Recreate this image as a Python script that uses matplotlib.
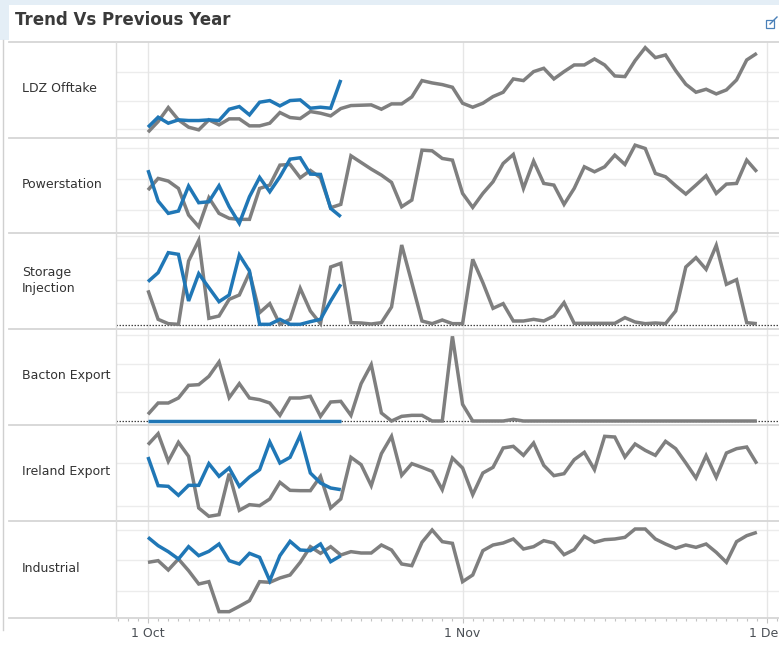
import numpy as np
import pandas as pd
import matplotlib
matplotlib.use("Agg")
import matplotlib.pyplot as plt
import matplotlib.dates as mdates
from matplotlib.lines import Line2D
from matplotlib.patches import Rectangle

# ---------------- data ----------------
prev_dates = pd.date_range("2018-10-01", "2018-11-30", freq="D")   # previous year (61 days)
curr_dates = pd.date_range("2018-10-01", "2018-10-20", freq="D")   # current year (20 days)

categories = ["LDZ Offtake", "Powerstation", "Storage\nInjection",
              "Bacton Export", "Ireland Export", "Industrial"]

ldz_prev = [23, 55, 97, 60, 38, 30, 60, 45, 63, 63, 42, 42, 50, 82, 67, 64, 85, 80, 72, 94,
            103, 104, 105, 92, 108, 108, 129, 178, 171, 166, 158, 110, 98, 110, 130, 143, 183, 178, 205, 215,
            183, 205, 225, 225, 243, 225, 192, 190, 238, 277, 247, 255, 208, 167, 143, 152, 138, 150, 180, 240,
            260]
ldz_curr = [38, 68, 50, 60, 58, 58, 60, 58, 92, 100, 75, 113, 118, 102, 118, 120, 95, 98, 95, 180]

power_prev = [135, 170, 162, 140, 60, 25, 112, 65, 50, 47, 47, 140, 150, 210, 212, 172, 194, 172, 82, 92,
              238, 218, 198, 180, 158, 85, 105, 255, 253, 230, 225, 125, 83, 125, 160, 215, 242, 140, 222, 155,
              150, 92, 140, 205, 190, 205, 240, 212, 270, 260, 185, 175, 148, 123, 150, 178, 125, 153, 155, 225,
              190]
power_curr = [195, 102, 65, 72, 147, 97, 100, 148, 85, 35, 115, 173, 130, 175, 228, 232, 183, 182, 80, 55]

storage_prev = [103, 16, 3, 1, 191, 253, 19, 26, 76, 89, 156, 36, 63, 1, 16, 109, 41, 3, 173, 184,
                6, 5, 2, 6, 53, 239, 126, 11, 3, 14, 3, 3, 196, 126, 49, 63, 11, 11, 16, 11,
                26, 66, 4, 4, 4, 4, 4, 21, 8, 3, 5, 3, 41, 173, 201, 166, 238, 121, 135, 6,
                3]
storage_curr = [129, 156, 216, 211, 71, 153, 111, 69, 89, 209, 161, 1, 1, 16, 1, 1, 9, 16, 71, 121]

bacton_prev = [20, 54, 54, 69, 107, 109, 134, 177, 70, 112, 69, 64, 54, 17, 69, 69, 74, 14, 57, 59,
               17, 112, 169, 24, 0, 14, 17, 17, 0, 0, 254, 50, 0, 0, 0, 0, 5, 0, 0, 0,
               0, 0, 0, 0, 0, 0, 0, 0, 0, 0, 0, 0, 0, 0, 0, 0, 0, 0, 0, 0,
               0]
bacton_curr = [0] * 20

ireland_prev = [235, 268, 185, 242, 200, 45, 20, 25, 148, 38, 55, 52, 72, 122, 98, 97, 97, 140, 45, 72,
                197, 175, 112, 208, 260, 143, 178, 167, 155, 100, 195, 165, 85, 150, 167, 225, 230, 203, 240, 173,
                142, 148, 190, 212, 160, 260, 258, 198, 237, 218, 203, 245, 223, 180, 135, 202, 137, 210, 223, 228,
                178]
ireland_curr = [198, 112, 110, 83, 113, 113, 178, 140, 165, 110, 138, 160, 243, 180, 197, 263, 150, 120, 105, 100]

industrial_prev = [170, 175, 147, 180, 145, 105, 112, 22, 22, 38, 55, 112, 110, 123, 132, 170, 217, 197, 217, 192,
                   202, 198, 198, 222, 207, 165, 160, 230, 267, 232, 227, 112, 132, 205, 222, 228, 240, 210, 217, 235,
                   228, 193, 208, 248, 230, 238, 240, 245, 270, 270, 240, 225, 212, 222, 215, 225, 200, 170, 232, 250,
                   260]
industrial_curr = [245, 220, 202, 180, 217, 190, 203, 225, 175, 165, 197, 185, 115, 190, 233, 207, 205, 225, 172, 190]

x_tick_dates = ["2018-10-01", "2018-11-01", "2018-12-01"]
x_tick_labels = ["1 Oct", "1 Nov", "1 Dec"]

prev_series = [ldz_prev, power_prev, storage_prev, bacton_prev, ireland_prev, industrial_prev]
curr_series = [ldz_curr, power_curr, storage_curr, bacton_curr, ireland_curr, industrial_curr]

# ---------------- layout / style ----------------
W, H = 779, 661
row_edges = [42, 137.5, 233, 329, 425, 521, 618]
plot_left, plot_right, label_x = 116, 779, 22
ylims = [(7, 294), (6, 293), (-13, 275), (-12, 276), (6, 294), (3, 294)]
ygrids = [[32, 118, 205], [75, 167, 260], [66, 133, 199, 265], [86, 172, 258], [50, 180], [85, 178, 268]]
zero_line = [False, False, True, True, False, False]

GRAY = "#7f7f7f"
BLUE = "#2077b6"
SEP = "#d6d6d6"
GRID = "#ececec"

fig = plt.figure(figsize=(W / 100, H / 100), dpi=100)
fig.patch.set_facecolor("white")

def fx(px):
    return px / W

def fy(py):
    return 1 - py / H

# dashboard frame details
fig.add_artist(Rectangle((0, fy(5)), 1, 5 / H, transform=fig.transFigure,
                         facecolor="#e4eef6", edgecolor="none", zorder=0))
fig.add_artist(Rectangle((0, fy(40)), fx(9), 40 / H, transform=fig.transFigure,
                         facecolor="#e4eef6", edgecolor="none", zorder=0))
fig.add_artist(Line2D([fx(3), fx(3)], [fy(40), fy(630)], transform=fig.transFigure,
                      color="#d0d0d0", lw=1))

fig.text(fx(15), fy(20), "Trend Vs Previous Year", fontsize=12, fontweight="bold",
         color="#3a3a3a", ha="left", va="center", family="DejaVu Sans")

# small external-link icon
fig.add_artist(Rectangle((fx(766), fy(28)), 8 / W, 8 / H, transform=fig.transFigure,
                         facecolor="none", edgecolor="#4a80b8", lw=0.9))
fig.add_artist(Line2D([fx(770), fx(777)], [fy(24), fy(17)], transform=fig.transFigure,
                      color="#4a80b8", lw=1.0))

x0 = mdates.date2num(pd.Timestamp("2018-10-01")) - (148 - plot_left) / 10.15
x1 = mdates.date2num(pd.Timestamp("2018-12-01")) + (plot_right - 767) / 10.15
major_nums = [mdates.date2num(pd.Timestamp(d)) for d in x_tick_dates]

axes = []
for i in range(6):
    top, bot = row_edges[i], row_edges[i + 1]
    ax = fig.add_axes([fx(plot_left), fy(bot), fx(plot_right) - fx(plot_left), (bot - top) / H])
    ax.set_facecolor("none")
    ax.set_xlim(x0, x1)
    ax.set_ylim(*ylims[i])
    for s in ax.spines.values():
        s.set_visible(False)
    for g in ygrids[i]:
        ax.axhline(g, color=GRID, lw=1, zorder=0)
    for m in major_nums:
        ax.axvline(m, color="#e6e6e6", lw=1, zorder=0)
    if zero_line[i]:
        ax.axhline(0, color="#444444", lw=0.9, ls=(0, (1.2, 1.2)), zorder=1)
    ax.plot(prev_dates, prev_series[i], color=GRAY, lw=2.5, solid_joinstyle="miter",
            solid_capstyle="butt", zorder=2)
    ax.plot(curr_dates, curr_series[i], color=BLUE, lw=2.5, solid_joinstyle="miter",
            solid_capstyle="butt", zorder=3)
    ax.set_yticks([])
    ax.set_xlim(x0, x1)
    if i < 5:
        ax.set_xticks([])
    else:
        ax.set_xticks(major_nums)
        ax.set_xticklabels(x_tick_labels)
        ax.xaxis.set_minor_locator(mdates.DayLocator())
        ax.tick_params(axis="x", which="major", length=3.5, width=0.8, color="#c4c4c4",
                       labelsize=9, labelcolor="#4a4f55", pad=3.0)
        ax.tick_params(axis="x", which="minor", length=1.8, width=0.8, color="#c4c4c4")
    axes.append(ax)

    # row label
    if "\n" in categories[i]:
        fig.text(fx(label_x), fy((top + bot) / 2 - 0.5), categories[i], fontsize=9, color="#333333",
                 ha="left", va="center", linespacing=1.35, family="DejaVu Sans")
    else:
        fig.text(fx(label_x), fy((top + bot) / 2 - 1), categories[i], fontsize=9, color="#333333",
                 ha="left", va="center", family="DejaVu Sans")

# separators
for y in row_edges:
    fig.add_artist(Line2D([fx(9), 1], [fy(y), fy(y)], transform=fig.transFigure,
                          color=SEP, lw=1.3, zorder=5))
fig.add_artist(Line2D([fx(plot_left), fx(plot_left)], [fy(row_edges[0]), fy(row_edges[-1])],
                      transform=fig.transFigure, color="#dcdcdc", lw=1, zorder=5))

fig.savefig("out.png", dpi=100, facecolor="white")
